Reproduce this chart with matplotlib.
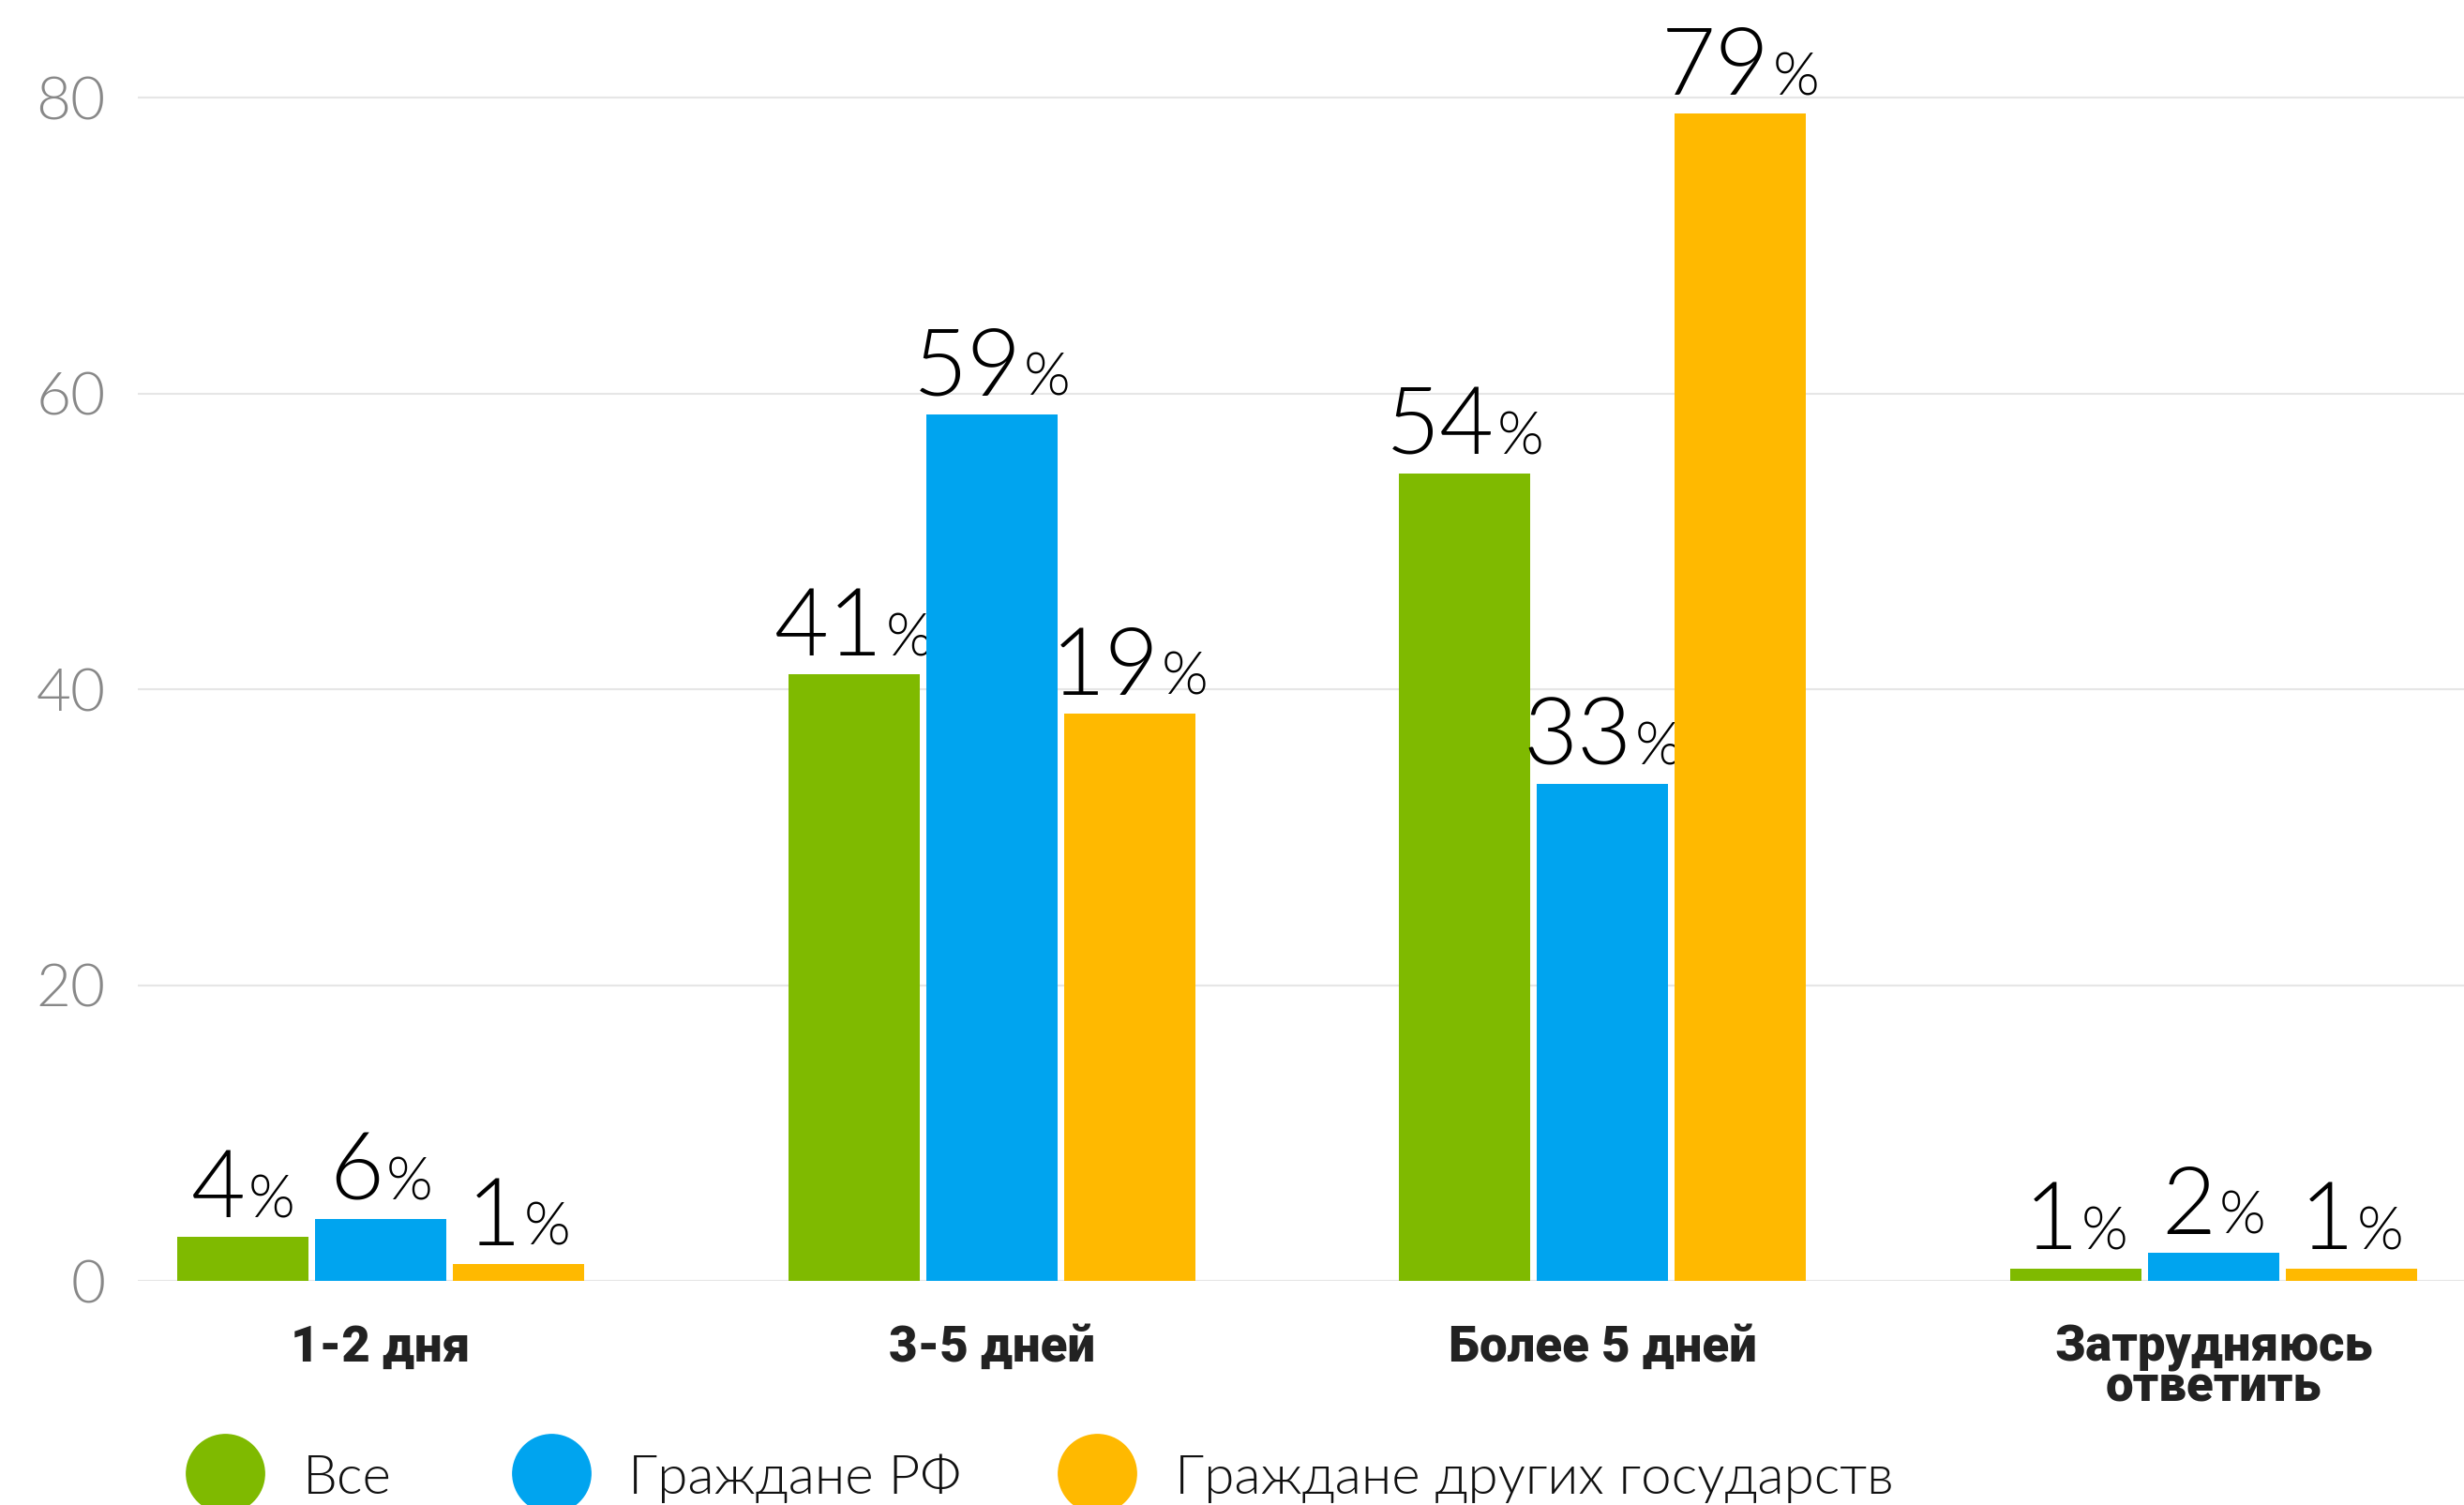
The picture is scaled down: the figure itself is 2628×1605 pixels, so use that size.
import matplotlib
matplotlib.use('Agg')
import matplotlib.pyplot as plt
import numpy as np
from matplotlib.offsetbox import TextArea, HPacker, AnnotationBbox
from matplotlib.lines import Line2D

# --- Data ---
categories = ['1-2 дня', '3-5 дней', 'Более 5 дней', 'Затрудняюсь\nответить']
series_names = ['Все', 'Граждане РФ', 'Граждане других государств']

# bar heights as drawn
vse = [3.0, 41.0, 54.6, 0.85]
rf = [4.2, 58.6, 33.6, 1.9]
other = [1.15, 38.35, 78.9, 0.85]

# printed labels (they don't always match the bar heights)
vse_labels = ['4', '41', '54', '1']
rf_labels = ['6', '59', '33', '2']
other_labels = ['1', '19', '79', '1']

yticks = [0, 20, 40, 60, 80]

COLORS = ['#7FBA00', '#00A4EF', '#FFB900']

plt.rcParams['font.family'] = ['Lato', 'DejaVu Sans']

# --- Plot ---
fig = plt.figure(figsize=(26.28, 16.05), dpi=100)
ax = fig.add_axes([0.0561, 0.1489, 0.9439, 0.8511])

x = np.arange(len(categories))
width = 0.215
step = 0.2256

series = [vse, rf, other]
labels = [vse_labels, rf_labels, other_labels]

for i, (vals, labs, color) in enumerate(zip(series, labels, COLORS)):
    xs = x + (i - 1) * step
    ax.bar(xs, vals, width=width, color=color, zorder=3)
    for xi, v, lab in zip(xs, vals, labs):
        num = TextArea(lab, textprops=dict(fontsize=72, color='black', fontweight=300))
        pct = TextArea('%', textprops=dict(fontsize=46, color='black', fontweight=300))
        box = HPacker(children=[num, pct], align='baseline', pad=0, sep=2)
        ab = AnnotationBbox(box, (xi, v), xybox=(0, 2), xycoords='data',
                            boxcoords='offset points', box_alignment=(0.5, 0),
                            frameon=False, pad=0, annotation_clip=False)
        ax.add_artist(ab)

ax.set_xlim(-0.397, 3.41)
ax.set_ylim(0, 86.6)

ax.set_yticks(yticks)
ax.tick_params(axis='y', length=0, pad=25, labelsize=46, labelcolor='#888888')
for t in ax.get_yticklabels():
    t.set_fontweight(300)

ax.set_xticks(x)
ax.set_xticklabels(categories, fontsize=38, fontweight=900, color='#222222',
                   family=['Roboto', 'DejaVu Sans'], linespacing=0.78)
ax.tick_params(axis='x', length=0, pad=33)

ax.grid(axis='y', color='#e6e6e6', linewidth=1.5)
ax.set_axisbelow(True)
for s in ax.spines.values():
    s.set_visible(False)

# --- Legend (manual, along the bottom edge) ---
W, H = 2628, 1605
circle_x = [240, 588, 1170]
text_x = [323, 670, 1253]
for name, color, cx, tx in zip(series_names, COLORS, circle_x, text_x):
    fig.add_artist(Line2D([cx / W], [1 - 1571 / H], marker='o', markersize=60,
                          color=color, linestyle='none', transform=fig.transFigure))
    fig.text(tx / W, 1 - 1593 / H, name, fontsize=42, fontweight=300,
             color='#111111', va='baseline', ha='left')

plt.savefig('out.png', dpi=100)
